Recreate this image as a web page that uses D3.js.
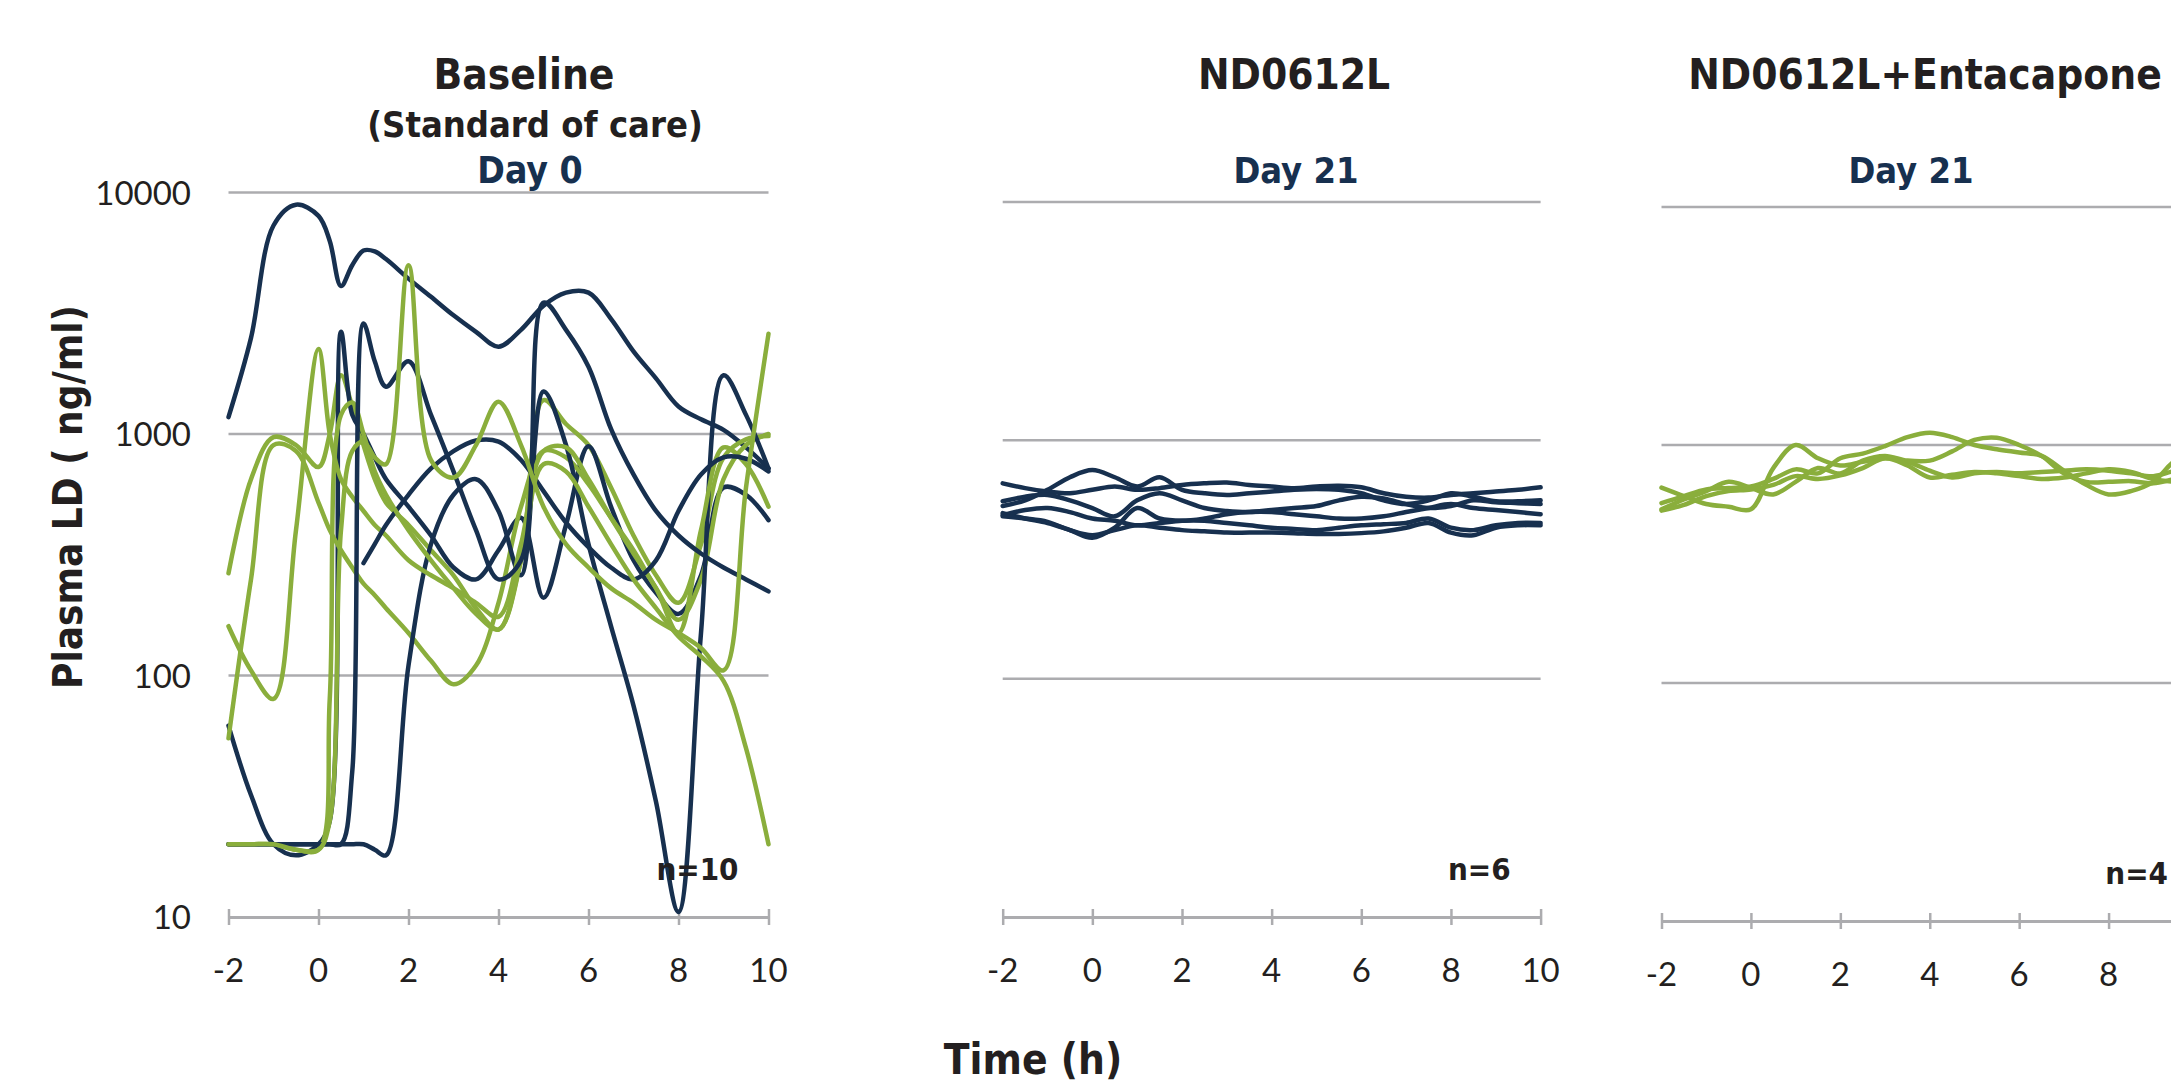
<!DOCTYPE html>
<html>
<head>
<meta charset="utf-8">
<script src="https://cdnjs.cloudflare.com/ajax/libs/d3/7.8.5/d3.min.js"></script>
<style>
  html, body { margin: 0; padding: 0; background: #fff; overflow: hidden; }
  svg { display: block; }
  .head { font-family: 'DejaVu Sans Condensed', 'DejaVu Sans', sans-serif; font-stretch: condensed; font-weight: bold; fill: #231f20; }
  .day  { fill: #17304f; }
  .tick { font-family: Lato, 'Open Sans', sans-serif; font-size: 33px; fill: #231f20; }
</style>
</head>
<body>
<div id="chart"></div>
<script>
// ---- Daten ----
const xTicks = [-2, 0, 2, 4, 6, 8, 10];
const yTicks = [10, 100, 1000, 10000];

// Baseline (Tag 0): Zeitpunkte in h
const baselineTimes = [-2, -1.5, -1, -0.5, 0, 0.25, 0.5, 0.75, 1, 1.25, 1.5, 2, 2.5, 3, 3.5, 4, 4.5, 5, 5.5, 6, 6.5, 7, 7.5, 8, 8.5, 9, 9.5, 10];
const baseNavyA = [1175, 2500, 7300, 8900, 8000, 6300, 4100, 5000, 5750, 5700, 5300, 4400, 3700, 3100, 2650, 2300, 2700, 3400, 3850, 3850, 3000, 2200, 1700, 1300, 1150, 1040, 880, 720];
const baseNavyB = [62, 32, 20, 18, 20, 25, 2650, 1200, 1000, 800, 650, 500, 380, 280, 250, 330, 450, 210, 420, 890, 500, 300, 220, 180, 260, 600, 560, 440];
const baseNavyC = [20, 20, 20, 20, 20, 20, 20, 20, 20, 19, 18, 110, 350, 560, 650, 480, 260, 1500, 900, 350, 160, 75, 30, 10.5, 150, 1750, 1200, 720];
const baseNavyD = [null, null, null, null, null, null, null, null, 292, 350, 420, 560, 720, 850, 940, 930, 780, 580, 430, 340, 280, 250, 300, 480, 680, 800, 790, 700];
const baseNavyE = [20, 20, 20, 20, 20, 20, 20, 40, 2870, 2000, 1570, 2000, 1200, 700, 400, 250, 300, 3500, 2700, 1900, 1050, 680, 480, 380, 320, 280, 250, 223];
const baseGreen1 = [265, 650, 970, 900, 730, 1000, 1750, 1300, 900, 650, 520, 420, 330, 260, 190, 155, 300, 1380, 1100, 900, 600, 380, 260, 200, 350, 800, 950, 980];
const baseGreen2 = [55, 250, 900, 850, 520, 400, 330, 280, 240, 215, 190, 150, 115, 92, 110, 200, 500, 850, 800, 620, 450, 330, 230, 170, 250, 650, 900, 1000];
const baseGreen3 = [160, 105, 80, 400, 2250, 1000, 650, 550, 480, 420, 380, 300, 260, 230, 200, 175, 350, 850, 880, 650, 450, 320, 230, 150, 400, 880, 750, 500];
const baseGreen4 = [20, 20, 20, 19, 19, 80, 1200, 1350, 1000, 700, 560, 400, 300, 230, 180, 155, 300, 750, 700, 500, 350, 250, 190, 145, 120, 95, 50, 20];
const baseGreen5 = [20, 20, 20, 19, 19, 25, 400, 850, 930, 800, 750, 5000, 780, 660, 900, 1360, 900, 500, 350, 280, 230, 200, 170, 150, 130, 105, 600, 2600];

// Tag 21: halbstündlich
const day21Times = [-2, -1.5, -1, -0.5, 0, 0.5, 1, 1.5, 2, 2.5, 3, 3.5, 4, 4.5, 5, 5.5, 6, 6.5, 7, 7.5, 8, 8.5, 9, 9.5, 10];
const ndNavy1 = [660, 630, 610, 600, 620, 640, 620, 630, 650, 660, 665, 650, 640, 630, 640, 645, 635, 600, 580, 575, 590, 600, 610, 620, 635];
const ndNavy2 = [530, 560, 620, 700, 750, 700, 640, 700, 620, 600, 590, 600, 610, 620, 625, 620, 600, 560, 540, 560, 600, 580, 555, 555, 560];
const ndNavy3 = [555, 580, 590, 560, 520, 480, 560, 600, 560, 520, 505, 500, 510, 520, 530, 560, 580, 570, 540, 520, 530, 560, 550, 545, 540];
const ndNavy4 = [495, 470, 450, 420, 390, 430, 520, 470, 460, 470, 490, 500, 500, 490, 480, 470, 470, 480, 500, 520, 540, 520, 510, 500, 490];
const ndNavy5 = [485, 510, 520, 500, 470, 460, 440, 450, 460, 460, 450, 440, 430, 425, 420, 430, 440, 445, 450, 470, 430, 420, 440, 450, 450];
const ndNavy6 = [480, 470, 455, 420, 400, 420, 440, 430, 420, 415, 410, 410, 410, 408, 405, 405, 408, 415, 430, 450, 410, 400, 430, 440, 440];

const entGreen1 = [662, 610, 565, 550, 537, 800, 1000, 880, 820, 850, 880, 850, 780, 730, 760, 770, 760, 770, 780, 790, 780, 760, 740, 780, 800];
const entGreen2 = [570, 610, 650, 660, 670, 720, 790, 760, 880, 920, 990, 1080, 1127, 1080, 1000, 960, 930, 900, 780, 680, 620, 640, 700, 860, 900];
const entGreen3 = [537, 590, 640, 700, 660, 620, 700, 800, 760, 860, 900, 860, 860, 940, 1050, 1073, 1000, 900, 760, 700, 700, 705, 690, 720, 740];
const entGreen4 = [530, 560, 610, 640, 650, 680, 740, 720, 745, 800, 880, 820, 730, 750, 770, 760, 740, 720, 730, 760, 790, 770, 720, 700, 700];

// ---- Farben / Layout ----
const NAVY  = '#17304f';
const GREEN = '#8aae3c';
const GRID  = '#acacaf';

const W = 2171, H = 1083;

const panels = [
  {
    left: 228.5, right: 768.5, top: 192.5, bottom: 917,
    times: baselineTimes, n: 'n=10', yLabels: true,
    series: [
      [baseNavyA, NAVY], [baseGreen1, GREEN], [baseNavyB, NAVY], [baseGreen2, GREEN],
      [baseNavyC, NAVY], [baseGreen3, GREEN], [baseNavyD, NAVY], [baseGreen4, GREEN],
      [baseNavyE, NAVY], [baseGreen5, GREEN]
    ],
    titles: [
      { text: 'Baseline', x: 524, y: 89, size: 42 },
      { text: '(Standard of care)', x: 535, y: 137, size: 36 },
      { text: 'Day 0', x: 530, y: 183, size: 37, day: true }
    ]
  },
  {
    left: 1002.7, right: 1540.6, top: 202, bottom: 917,
    times: day21Times, n: 'n=6', yLabels: false,
    series: [ndNavy1, ndNavy2, ndNavy3, ndNavy4, ndNavy5, ndNavy6].map(s => [s, NAVY]),
    titles: [
      { text: 'ND0612L', x: 1294, y: 89, size: 42 },
      { text: 'Day 21', x: 1296, y: 183, size: 36, day: true }
    ]
  },
  {
    left: 1661.5, right: 2198, top: 207, bottom: 921,
    times: day21Times, n: 'n=4', yLabels: false,
    series: [entGreen1, entGreen2, entGreen3, entGreen4].map(s => [s, GREEN]),
    titles: [
      { text: 'ND0612L+Entacapone', x: 1925, y: 89, size: 42 },
      { text: 'Day 21', x: 1911, y: 183, size: 36, day: true }
    ]
  }
];

const svg = d3.select('#chart').append('svg')
  .attr('width', W)
  .attr('height', H);

const defs = svg.append('defs');

panels.forEach((p, pi) => {
  const x = d3.scaleLinear().domain([-2, 10]).range([p.left, p.right]);
  const y = d3.scaleLog().domain([10, 10000]).range([p.bottom, p.top]);
  const g = svg.append('g');

  // Gitterlinien
  g.selectAll('line.grid')
    .data(yTicks.filter(v => v > 10))
    .enter().append('line')
    .attr('x1', p.left).attr('x2', p.right)
    .attr('y1', d => y(d)).attr('y2', d => y(d))
    .attr('stroke', GRID).attr('stroke-width', 2.5);

  // x-Achse mit Strichen nach oben und unten
  const ax = g.append('g').attr('transform', `translate(0,${y(10)})`);
  ax.call(d3.axisBottom(x).tickValues(xTicks).tickSize(0).tickFormat(''));
  ax.select('.domain').attr('stroke', GRID).attr('stroke-width', 3);
  ax.selectAll('.tick line')
    .attr('y1', -8).attr('y2', 8)
    .attr('stroke', GRID).attr('stroke-width', 2.5);

  // Beschriftung nur, soweit sie im Bild liegt
  g.selectAll('text.xt')
    .data(xTicks.filter(d => x(d) < W))
    .enter().append('text')
    .attr('class', 'tick')
    .attr('x', d => x(d))
    .attr('y', y(10) + 65)
    .attr('text-anchor', 'middle')
    .text(d => d);

  if (p.yLabels) {
    g.selectAll('text.yt')
      .data(yTicks)
      .enter().append('text')
      .attr('class', 'tick')
      .attr('x', 191)
      .attr('y', d => y(d) + 12)
      .attr('text-anchor', 'end')
      .text(d => d);
  }

  // Verläufe
  defs.append('clipPath').attr('id', 'clip' + pi)
    .append('rect')
    .attr('x', p.left - 4).attr('y', p.top - 20)
    .attr('width', p.right - p.left + 8)
    .attr('height', p.bottom - p.top + 22);

  const line = d3.line()
    .defined(d => d.v != null)
    .x(d => x(d.t))
    .y(d => y(d.v))
    .curve(d3.curveCatmullRom.alpha(0.5));

  g.append('g')
    .attr('clip-path', `url(#clip${pi})`)
    .selectAll('path')
    .data(p.series)
    .enter().append('path')
    .attr('d', s => line(p.times.map((t, i) => ({ t, v: s[0][i] }))))
    .attr('fill', 'none')
    .attr('stroke', s => s[1])
    .attr('stroke-width', 4.5)
    .attr('stroke-linejoin', 'round')
    .attr('stroke-linecap', 'round');

  // n=
  g.append('text')
    .attr('class', 'head')
    .attr('x', p.right - 30)
    .attr('y', p.bottom - 37)
    .attr('text-anchor', 'end')
    .attr('font-size', 31)
    .text(p.n);

  // Titel
  p.titles.forEach(t => {
    g.append('text')
      .attr('class', t.day ? 'head day' : 'head')
      .attr('x', t.x)
      .attr('y', t.y)
      .attr('text-anchor', 'middle')
      .attr('font-size', t.size)
      .text(t.text);
  });
});

// Achsentitel
svg.append('text')
  .attr('class', 'head')
  .attr('transform', 'translate(82,497) rotate(-90)')
  .attr('text-anchor', 'middle')
  .attr('font-size', 40)
  .text('Plasma LD ( ng/ml)');

svg.append('text')
  .attr('class', 'head')
  .attr('x', 1033)
  .attr('y', 1074)
  .attr('text-anchor', 'middle')
  .attr('font-size', 42)
  .text('Time (h)');
</script>
</body>
</html>
